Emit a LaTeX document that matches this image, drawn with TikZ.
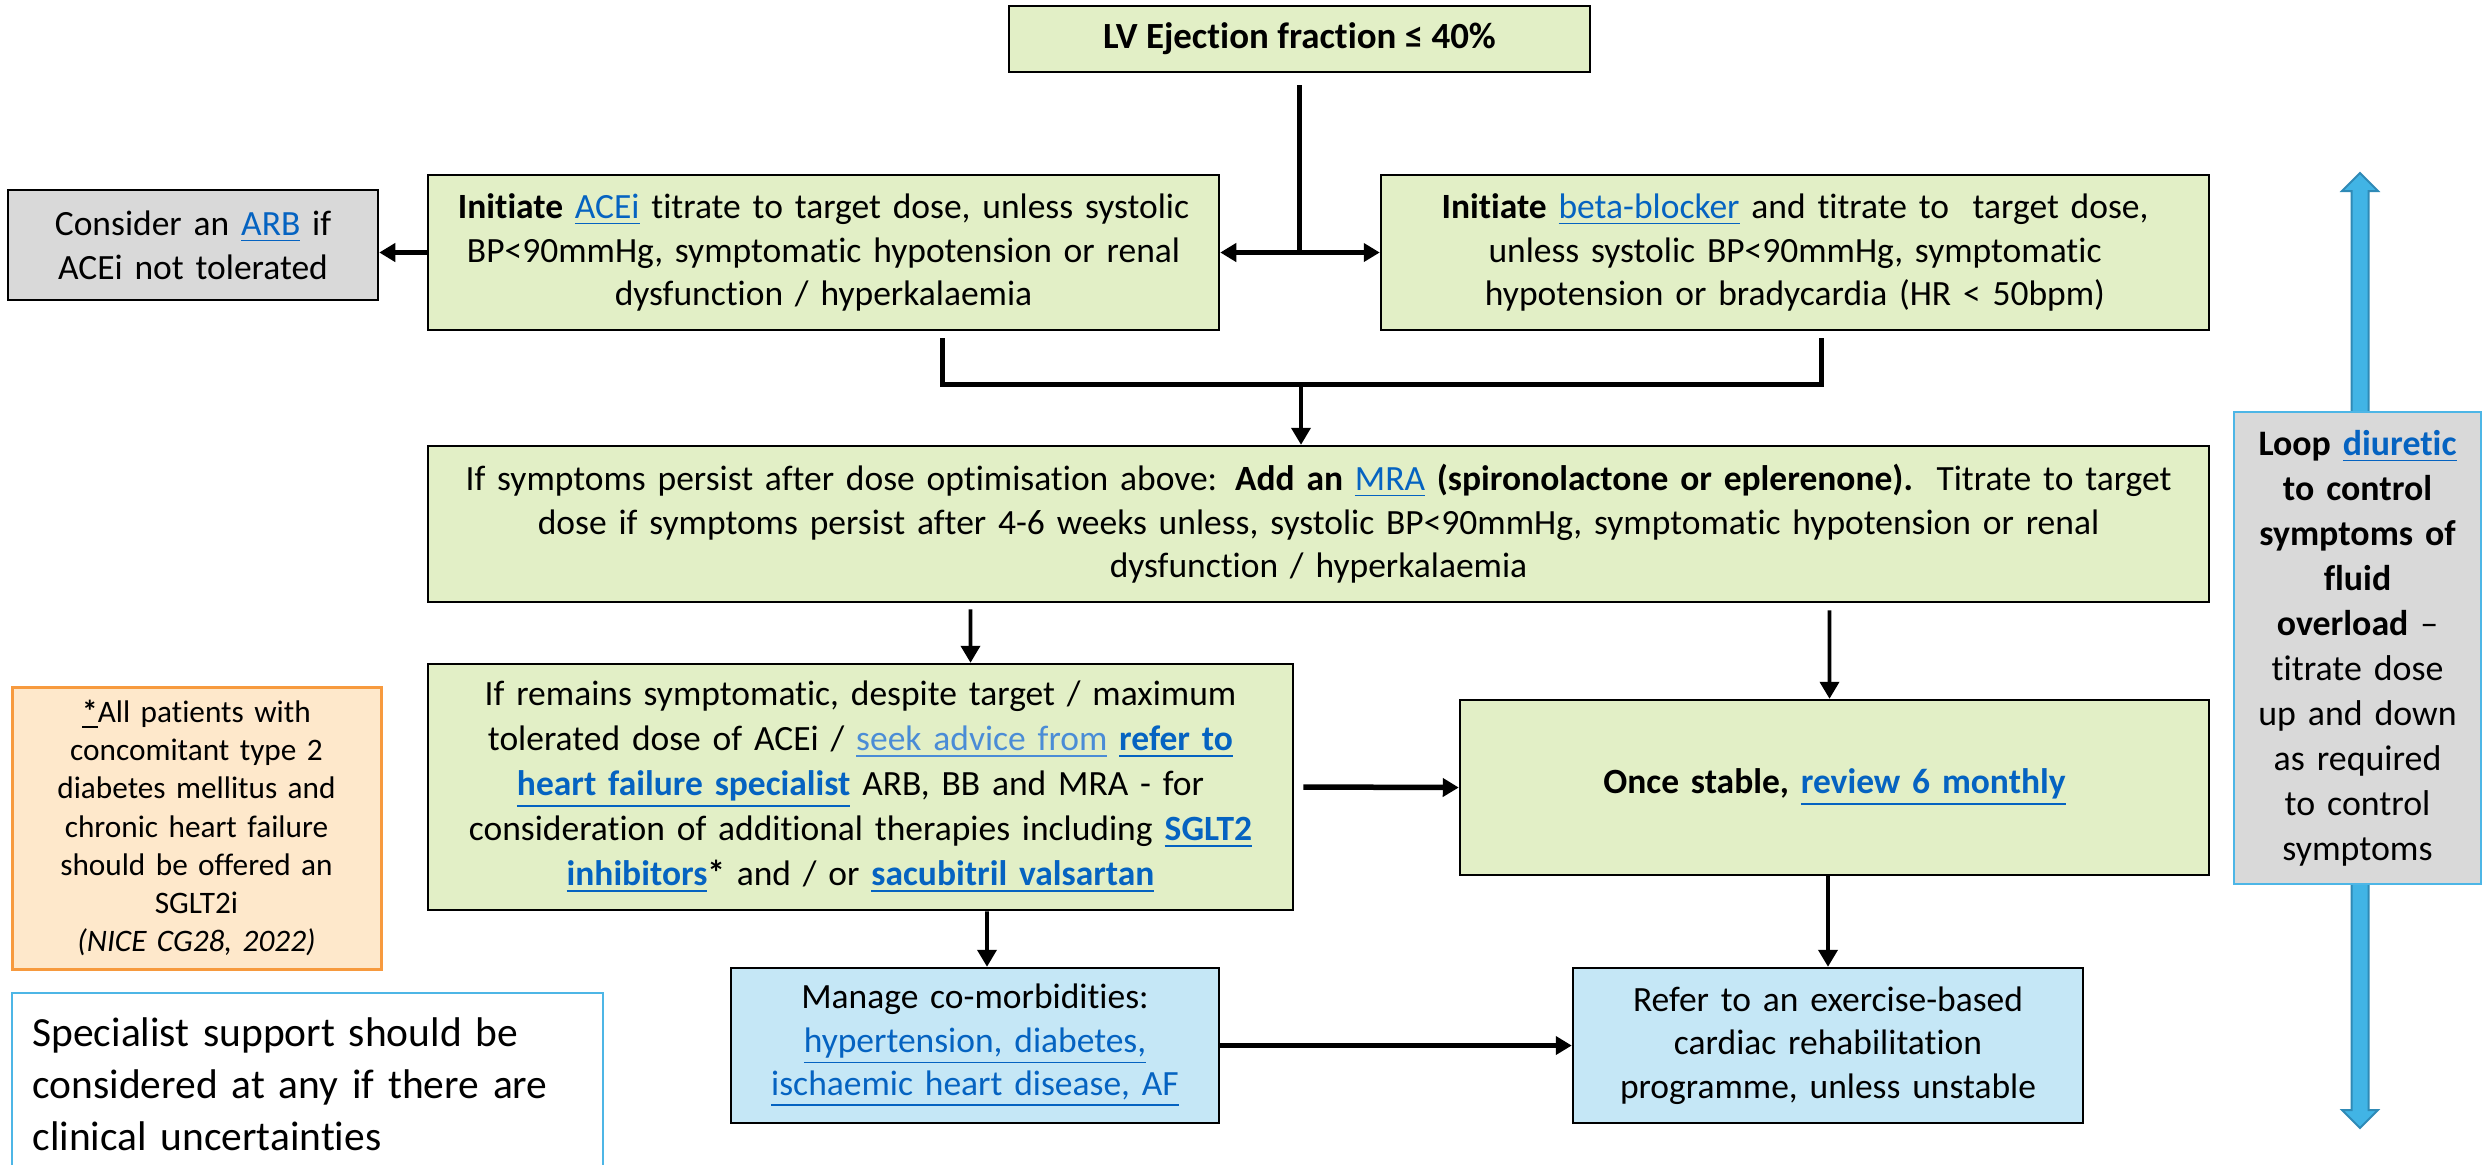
\documentclass[tikz,border=0pt]{standalone}
\usepackage{fontspec}
\setmainfont{Carlito}[Ligatures=CommonOff]
\usetikzlibrary{arrows.meta,calc}

\definecolor{cajaverde}{HTML}{E2EFC6}
\definecolor{cajagris}{HTML}{D9D9D9}
\definecolor{cajaazul}{HTML}{C5E7F6}
\definecolor{cajanaranja}{HTML}{FEE8CB}
\definecolor{bordenaranja}{HTML}{F79A3E}
\definecolor{bordeazul}{HTML}{4DB6E6}
\definecolor{flechaazul}{HTML}{41B4E5}
\definecolor{flechaborde}{HTML}{2F8AB6}
\definecolor{enlace}{HTML}{0563C1}
\definecolor{enlaceclaro}{HTML}{4A8CD6}

\newcommand{\enl}[1]{\textcolor{enlace}{\underline{#1}}}
\newcommand{\enlb}[1]{\textcolor{enlace}{\underline{\textbf{#1}}}}
\newcommand{\enlc}[1]{\textcolor{enlaceclaro}{\underline{#1}}}

\begin{document}
\begin{tikzpicture}[x=0.1mm, y=-0.1mm,
		caja/.style={draw=black, line width=0.25mm, inner sep=0pt, align=center,
			font=\fontsize{10.1}{12.4}\selectfont},
		verde/.style={caja, fill=cajaverde},
		gris/.style={caja, fill=cajagris},
		azul/.style={caja, fill=cajaazul},
		flecha/.style={-{Triangle[length=1.7mm,width=1.9mm]}, line width=0.38mm},
		flechagruesa/.style={-{Triangle[length=1.6mm,width=1.8mm]}, line width=0.55mm},
		doble/.style={{Triangle[length=1.6mm,width=1.8mm]}-{Triangle[length=1.6mm,width=1.8mm]}, line width=0.55mm},
		linea/.style={line width=0.5mm}]

			\useasboundingbox (0,0) rectangle (2483,1164);

			% Posiciones de las cajas
			\coordinate (c-lvef) at (1299.5, 39);     % Fraccion de eyeccion
			\coordinate (c-acei) at (823.5, 252.5);   % IECA
			\coordinate (c-beta) at (1795, 252.5);    % Betabloqueante
			\coordinate (c-arb) at (193, 245);        % ARA II
			\coordinate (c-mra) at (1318.5, 524);     % ARM
			\coordinate (c-spec) at (860.5, 787);     % Especialista
			\coordinate (c-stable) at (1834.5, 787.5);% Revision
			\coordinate (c-manage) at (975, 1045.5);  % Comorbilidades
			\coordinate (c-rehab) at (1828, 1045.5);  % Rehabilitacion
			\coordinate (c-loop) at (2357.5, 648);    % Diuretico
			\coordinate (c-note) at (196.5, 828);     % Nota SGLT2
			\coordinate (c-support) at (307.5, 1084); % Apoyo

			% Flecha azul del diuretico (detras de su caja)
			\coordinate (arriba) at (2360, 173);
			\coordinate (abajo) at (2360, 1128);
			\filldraw[fill=flechaazul, draw=flechaborde, line width=0.2mm] (arriba) -- ++(18,18) -- ++(-9.5,0) -- ($(abajo)+(8.5,-18)$) -- ++(9.5,0) -- (abajo) -- ++(-18,-18) -- ++(9.5,0) -- ($(arriba)+(-8.5,18)$) -- ++(-9.5,0) -- cycle;

			% Cajas del algoritmo
			\node[verde, minimum width=58.1mm, minimum height=6.6mm, font=\bfseries\fontsize{10.5}{12.4}\selectfont] (lvef) at (c-lvef) {LV Ejection fraction ≤ 40\%};
			\node[verde, minimum width=79.1mm, minimum height=15.5mm, text width=78mm] (acei) at (c-acei) {\textbf{Initiate} \enl{ACEi} titrate to target dose, unless systolic\\ BP<90mmHg, symptomatic hypotension or renal\\ dysfunction / hyperkalaemia};
			\node[verde, minimum width=82.8mm, minimum height=15.5mm, text width=81mm] (beta) at (c-beta) {\textbf{Initiate} \enl{beta-blocker} and titrate to\ \ target dose,\\ unless systolic BP<90mmHg, symptomatic\\ hypotension or bradycardia (HR < 50bpm)};
			\node[gris, minimum width=37mm, minimum height=11mm, text width=36mm] (arb) at (c-arb) {Consider an \enl{ARB} if\\ ACEi not tolerated};
			\node[verde, minimum width=178.1mm, minimum height=15.6mm, text width=177.5mm] (mra) at (c-mra) {If symptoms persist after dose optimisation above: \textbf{Add an} \enl{MRA} \textbf{(spironolactone or eplerenone).}\ \ Titrate to target\\ dose if symptoms persist after 4-6 weeks unless, systolic BP<90mmHg, symptomatic hypotension or renal\\ dysfunction / hyperkalaemia};
			\node[verde, minimum width=86.5mm, minimum height=24.6mm, text width=85mm, font=\fontsize{10.1}{12.8}\selectfont] (spec) at (c-spec) {If remains symptomatic, despite target / maximum\\ tolerated dose of ACEi / \enlc{seek advice from} \enlb{refer to}\\ \enlb{heart failure specialist} ARB, BB and MRA - for\\ consideration of additional therapies including \enlb{SGLT2}\\ \enlb{inhibitors}\textbf{*} and / or \enlb{sacubitril valsartan}};
			\node[verde, minimum width=74.9mm, minimum height=17.5mm, text width=73mm] (stable) at (c-stable) {\textbf{Once stable,} \enlb{review 6 monthly}};
			\node[azul, minimum width=48.8mm, minimum height=15.5mm, text width=47mm] (manage) at (c-manage) {Manage co-morbidities:\\ \enl{hypertension, diabetes,}\\ \enl{ischaemic heart disease, AF}};
			\node[azul, minimum width=51mm, minimum height=15.5mm, text width=50mm] (rehab) at (c-rehab) {Refer to an exercise-based\\ cardiac rehabilitation\\ programme, unless unstable};

			% Cajas laterales
			\node[gris, draw=bordeazul, minimum width=24.7mm, minimum height=47.2mm, text width=24mm, font=\fontsize{10.2}{12.8}\selectfont] (loop) at (c-loop) {\textbf{Loop} \enlb{diuretic}\\ \textbf{to control}\\ \textbf{symptoms of}\\ \textbf{fluid}\\ \textbf{overload} –\\ titrate dose\\ up and down\\ as required\\ to control\\ symptoms};
			\node[caja, draw=bordenaranja, fill=cajanaranja, line width=0.3mm, minimum width=36.9mm, minimum height=28.2mm, text width=36mm, font=\fontsize{8.9}{10.9}\selectfont] (note) at (c-note) {\underline{\textbf{*}}All patients with\\ concomitant type 2\\ diabetes mellitus and\\ chronic heart failure\\ should be offered an\\ SGLT2i\\ \textit{(NICE CG28, 2022)}};
			\node[caja, draw=bordeazul, fill=white, line width=0.2mm, align=left, minimum width=59.1mm, minimum height=18.2mm, text width=55mm, font=\fontsize{11.8}{14.8}\selectfont] (support) at (c-support) {Specialist support should be\\ considered at any if there are\\ clinical uncertainties};

			% Conexiones superiores
			\draw[linea] ([yshift=-1.2mm]lvef.south) -- (lvef.south |- acei.east);
			\draw[doble] (acei.east) -- (beta.west);
			\draw[flechagruesa] (acei.west) -- (acei.west -| arb.east);

			% Union hacia el ARM
			\coordinate (busizq) at (942, 384);
			\coordinate (busder) at (1821, 384);
			\coordinate (busmed) at (1301, 384);
			\draw[linea] ($(acei.south -| busizq)+(0,7)$) -- (busizq) -- (busder) -- ($(beta.south -| busder)+(0,7)$);
			\draw[flecha] (busmed) -- (busmed |- mra.north);

			% Conexiones inferiores
			\draw[flecha] ($(spec.north |- mra.south)+(110,6)$) -- ([xshift=11mm]spec.north);
			\draw[flecha] ($(stable.north |- mra.south)+(-5,7)$) -- ([xshift=-0.5mm]stable.north);
			\draw[flechagruesa] ($(spec.east)+(9,0)$) -- (stable.west);
			\draw[flecha] ($(manage.north |- spec.south)+(12,0)$) -- ([xshift=1.2mm]manage.north);
			\draw[flecha] (rehab.north |- stable.south) -- (rehab.north);
			\draw[flechagruesa] (manage.east) -- (rehab.west);

\end{tikzpicture}
\end{document}
